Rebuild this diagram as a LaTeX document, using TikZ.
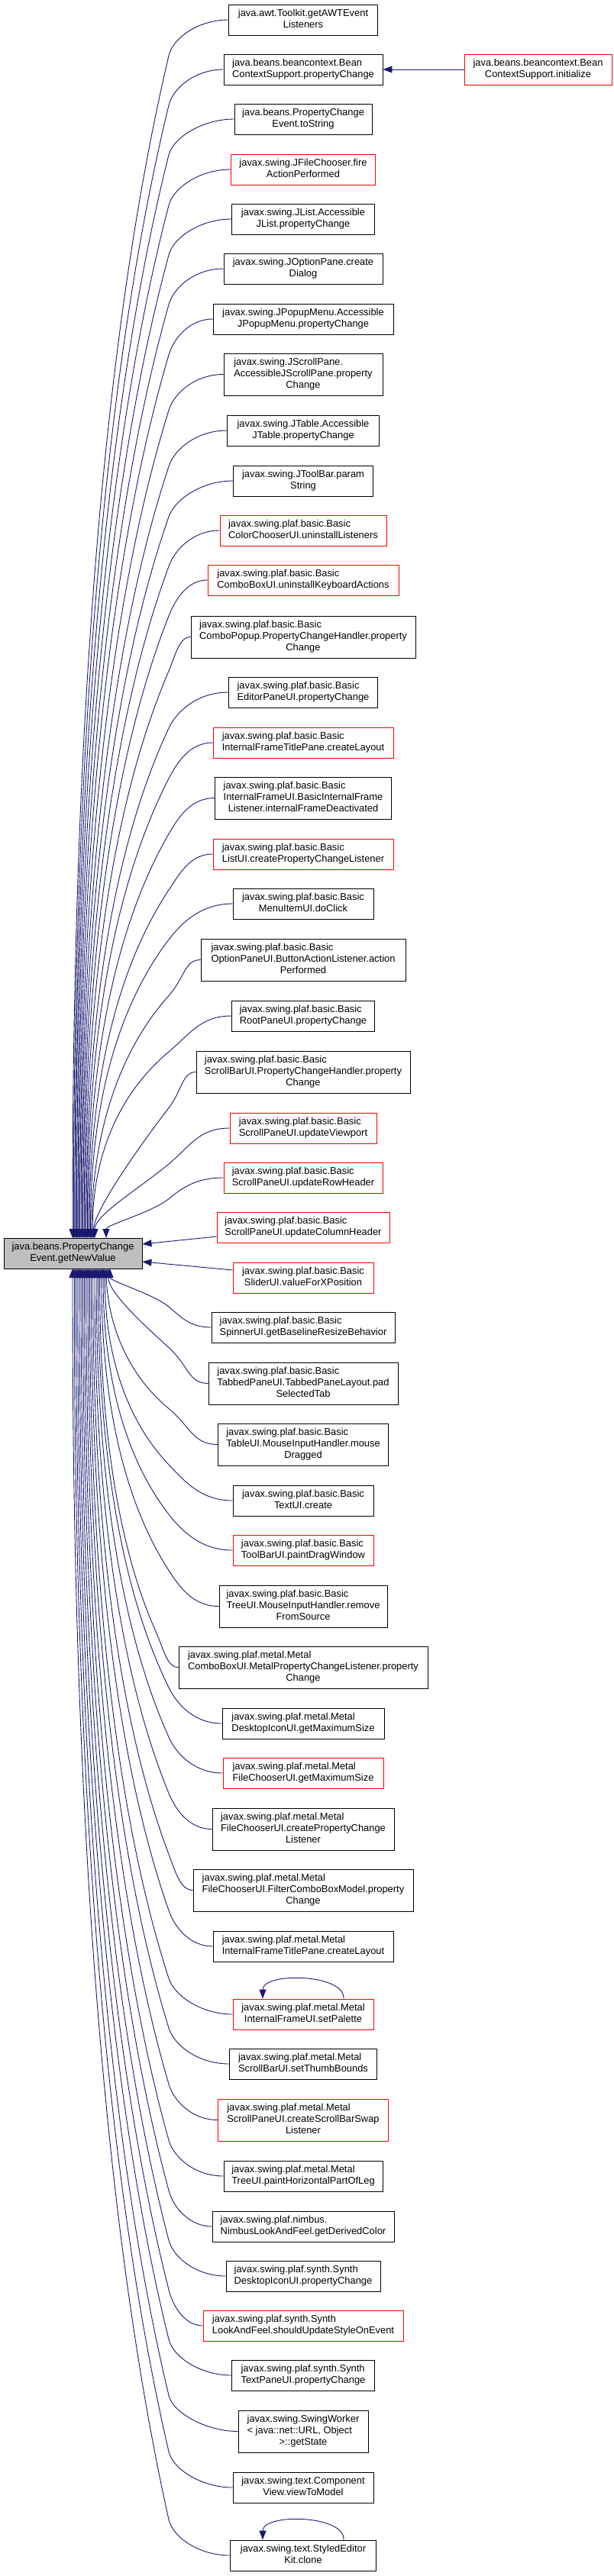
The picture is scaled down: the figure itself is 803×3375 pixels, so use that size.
\documentclass[tikz,border=0pt]{standalone}
\usepackage{fontspec}
\setmainfont{Liberation Sans}
\usetikzlibrary{arrows.meta,calc}
\definecolor{edgeblue}{HTML}{191970}
\definecolor{maingray}{HTML}{BFBFBF}
\newcommand{\twol}[2]{\begin{tabular}{@{}l@{}}#1\\\multicolumn{1}{@{}c@{}}{#2}\end{tabular}}
\newcommand{\threel}[3]{\begin{tabular}{@{}l@{}}#1\\#2\\\multicolumn{1}{@{}c@{}}{#3}\end{tabular}}
% #1 name, #2 centre y (down), #3 end x, #4 node width, #5 direction (1 above main, -1 below)
\newcommand{\calledge}[5]{%
  \pgfmathsetmacro{\eXo}{397-#4/2}%
  \pgfmathsetmacro{\eBx}{min(221,\eXo-30)}%
  \pgfmathsetmacro{\eTy}{#5>0 ? 1622 : 1662}%
  \pgfmathsetmacro{\eDtot}{#5*(\eTy-#2)}%
  \pgfmathsetmacro{\eOff}{min(47,0.35*\eDtot)}%
  \pgfmathsetmacro{\eBy}{#2+#5*\eOff}%
  \pgfmathsetmacro{\eD}{#5*(\eTy-\eBy)}%
  \pgfmathsetmacro{\eC}{min(25,0.5*\eOff)}%
  \pgfmathsetmacro{\eS}{min(1.2,2.9*(\eBx-#3)/\eD,0.5*(\eXo-\eBx)/\eC)}%
  \pgfmathsetmacro{\eA}{min(40,0.5*(\eXo-\eBx))}%
  \pgfmathsetmacro{\eL}{\eD/3}%
  \pgfmathsetmacro{\eCx}{\eS*\eC}%
  \pgfmathsetmacro{\eCy}{#5*\eC}%
  \pgfmathsetmacro{\eLx}{-\eS*\eL}%
  \pgfmathsetmacro{\eLy}{-#5*\eL}%
  \pgfmathsetmacro{\eEy}{#5*max(0.2*\eD,min(\eL,30))}%
  \pgfmathsetmacro{\eEx}{#3-95.5}%
  \pgfmathsetmacro{\eEyy}{#5*20}%
  \draw[edge] (#1.west) .. controls +(-\eA,0) and +(\eCx,\eCy) .. (\eBx,-\eBy)
    .. controls +(\eLx,\eLy) and +(0,\eEy) .. ($(main.center)+(\eEx,\eEyy)$);}
\begin{document}
\begin{tikzpicture}[x=1pt,y=1pt,
  box/.style={draw=black,line width=0.9pt,fill=white,inner sep=2pt,minimum height=40pt,
     font=\fontsize{12.9}{14.7}\selectfont,text=black},
  cn/.style={box},
  rn/.style={box,draw=red},
  tall/.style={minimum height=55pt},
  edge/.style={draw=edgeblue,line width=0.9pt,-{Triangle[length=12pt,width=9pt]}}]
\fill[white] (0,0) rectangle (803,-3375);
\useasboundingbox (0,0) rectangle (803,-3375);

\node[box,fill=maingray,minimum width=181pt] (main) at (95.5,-1642) {\twol{java.beans.PropertyChange}{Event.getNewValue}};

\node[cn,minimum width=195pt] (n1) at (397,-26) {\twol{java.awt.Toolkit.getAWTEvent}{Listeners}};
\node[cn,minimum width=208pt] (n2) at (397,-91) {\twol{java.beans.beancontext.Bean}{ContextSupport.propertyChange}};
\node[rn,minimum width=193pt] (r1) at (704.5,-91) {\twol{java.beans.beancontext.Bean}{ContextSupport.initialize}};
\node[cn,minimum width=180pt] (n3) at (397,-156) {\twol{java.beans.PropertyChange}{Event.toString}};
\node[rn,minimum width=189pt] (n4) at (397,-222) {\twol{javax.swing.JFileChooser.fire}{ActionPerformed}};
\node[cn,minimum width=187pt] (n5) at (397,-287) {\twol{javax.swing.JList.Accessible}{JList.propertyChange}};
\node[cn,minimum width=208pt] (n6) at (397,-352) {\twol{javax.swing.JOptionPane.create}{Dialog}};
\node[cn,minimum width=236pt] (n7) at (397,-418) {\twol{javax.swing.JPopupMenu.Accessible}{JPopupMenu.propertyChange}};
\node[cn,tall,minimum width=208pt] (n8) at (397,-490.5) {\threel{javax.swing.JScrollPane.}{AccessibleJScrollPane.property}{Change}};
\node[cn,minimum width=199pt] (n9) at (397,-564) {\twol{javax.swing.JTable.Accessible}{JTable.propertyChange}};
\node[cn,minimum width=183pt] (n10) at (397,-630) {\twol{javax.swing.JToolBar.param}{String}};
\node[rn,minimum width=218pt] (n11) at (397,-695) {\twol{javax.swing.plaf.basic.Basic}{ColorChooserUI.uninstallListeners}};
\node[rn,minimum width=250pt] (n12) at (397,-760) {\twol{javax.swing.plaf.basic.Basic}{ComboBoxUI.uninstallKeyboardActions}};
\node[cn,tall,minimum width=294pt] (n13) at (397,-834.5) {\threel{javax.swing.plaf.basic.Basic}{ComboPopup.PropertyChangeHandler.property}{Change}};
\node[cn,minimum width=195pt] (n14) at (397,-907) {\twol{javax.swing.plaf.basic.Basic}{EditorPaneUI.propertyChange}};
\node[rn,minimum width=236pt] (n15) at (397,-973) {\twol{javax.swing.plaf.basic.Basic}{InternalFrameTitlePane.createLayout}};
\node[cn,tall,minimum width=231pt] (n16) at (397,-1045.5) {\threel{javax.swing.plaf.basic.Basic}{InternalFrameUI.BasicInternalFrame}{Listener.internalFrameDeactivated}};
\node[rn,minimum width=236pt] (n17) at (397,-1119) {\twol{javax.swing.plaf.basic.Basic}{ListUI.createPropertyChangeListener}};
\node[cn,minimum width=184pt] (n18) at (397,-1184) {\twol{javax.swing.plaf.basic.Basic}{MenuItemUI.doClick}};
\node[cn,tall,minimum width=268pt] (n19) at (397,-1257.5) {\threel{javax.swing.plaf.basic.Basic}{OptionPaneUI.ButtonActionListener.action}{Performed}};
\node[cn,minimum width=187pt] (n20) at (397,-1331) {\twol{javax.swing.plaf.basic.Basic}{RootPaneUI.propertyChange}};
\node[cn,tall,minimum width=280pt] (n21) at (397,-1404.5) {\threel{javax.swing.plaf.basic.Basic}{ScrollBarUI.PropertyChangeHandler.property}{Change}};
\node[rn,minimum width=192pt] (n22) at (397,-1478) {\twol{javax.swing.plaf.basic.Basic}{ScrollPaneUI.updateViewport}};
\node[rn,minimum width=208pt] (n23) at (397,-1543) {\twol{javax.swing.plaf.basic.Basic}{ScrollPaneUI.updateRowHeader}};
\node[rn,minimum width=226pt] (n24) at (397,-1608) {\twol{javax.swing.plaf.basic.Basic}{ScrollPaneUI.updateColumnHeader}};
\node[rn,minimum width=184pt] (n25) at (397,-1674) {\twol{javax.swing.plaf.basic.Basic}{SliderUI.valueForXPosition}};
\node[cn,minimum width=240pt] (n26) at (397,-1739) {\twol{javax.swing.plaf.basic.Basic}{SpinnerUI.getBaselineResizeBehavior}};
\node[cn,tall,minimum width=248pt] (n27) at (397,-1812.5) {\threel{javax.swing.plaf.basic.Basic}{TabbedPaneUI.TabbedPaneLayout.pad}{SelectedTab}};
\node[cn,tall,minimum width=223pt] (n28) at (397,-1892.5) {\threel{javax.swing.plaf.basic.Basic}{TableUI.MouseInputHandler.mouse}{Dragged}};
\node[cn,minimum width=184pt] (n29) at (397,-1966) {\twol{javax.swing.plaf.basic.Basic}{TextUI.create}};
\node[rn,minimum width=184pt] (n30) at (397,-2031) {\twol{javax.swing.plaf.basic.Basic}{ToolBarUI.paintDragWindow}};
\node[cn,tall,minimum width=220pt] (n31) at (397,-2104.5) {\threel{javax.swing.plaf.basic.Basic}{TreeUI.MouseInputHandler.remove}{FromSource}};
\node[cn,tall,minimum width=326pt] (n32) at (397,-2184.5) {\threel{javax.swing.plaf.metal.Metal}{ComboBoxUI.MetalPropertyChangeListener.property}{Change}};
\node[cn,minimum width=212pt] (n33) at (397,-2258) {\twol{javax.swing.plaf.metal.Metal}{DesktopIconUI.getMaximumSize}};
\node[rn,minimum width=210pt] (n34) at (397,-2323) {\twol{javax.swing.plaf.metal.Metal}{FileChooserUI.getMaximumSize}};
\node[cn,tall,minimum width=238pt] (n35) at (397,-2396.5) {\threel{javax.swing.plaf.metal.Metal}{FileChooserUI.createPropertyChange}{Listener}};
\node[cn,tall,minimum width=288pt] (n36) at (397,-2476.5) {\threel{javax.swing.plaf.metal.Metal}{FileChooserUI.FilterComboBoxModel.property}{Change}};
\node[cn,minimum width=236pt] (n37) at (397,-2550) {\twol{javax.swing.plaf.metal.Metal}{InternalFrameTitlePane.createLayout}};
\node[rn,minimum width=184pt] (n38) at (397,-2639) {\twol{javax.swing.plaf.metal.Metal}{InternalFrameUI.setPalette}};
\node[cn,minimum width=193pt] (n39) at (397,-2704) {\twol{javax.swing.plaf.metal.Metal}{ScrollBarUI.setThumbBounds}};
\node[rn,tall,minimum width=223pt] (n40) at (397,-2777.5) {\threel{javax.swing.plaf.metal.Metal}{ScrollPaneUI.createScrollBarSwap}{Listener}};
\node[cn,minimum width=208pt] (n41) at (397,-2851) {\twol{javax.swing.plaf.metal.Metal}{TreeUI.paintHorizontalPartOfLeg}};
\node[cn,minimum width=238pt] (n42) at (397,-2917) {\twol{javax.swing.plaf.nimbus.}{NimbusLookAndFeel.getDerivedColor}};
\node[cn,minimum width=202pt] (n43) at (397,-2982) {\twol{javax.swing.plaf.synth.Synth}{DesktopIconUI.propertyChange}};
\node[rn,minimum width=262pt] (n44) at (397,-3047) {\twol{javax.swing.plaf.synth.Synth}{LookAndFeel.shouldUpdateStyleOnEvent}};
\node[cn,minimum width=187pt] (n45) at (397,-3112) {\twol{javax.swing.plaf.synth.Synth}{TextPaneUI.propertyChange}};
\node[cn,tall,minimum width=170pt] (n46) at (397,-3185.5) {\threel{javax.swing.SwingWorker}{< java::net::URL, Object}{>::getState}};
\node[cn,minimum width=184pt] (n47) at (397,-3259) {\twol{javax.swing.text.Component}{View.viewToModel}};
\node[cn,minimum width=191pt] (n48) at (397,-3348) {\twol{javax.swing.text.StyledEditor}{Kit.clone}};

% edges from nodes above the main node
\calledge{n1}{26}{95}{195}{1}
\calledge{n2}{91}{96.4}{208}{1}
\calledge{n3}{156}{97.8}{180}{1}
\calledge{n4}{222}{99.1}{189}{1}
\calledge{n5}{287}{100.5}{187}{1}
\calledge{n6}{352}{101.9}{208}{1}
\calledge{n7}{418}{103.3}{236}{1}
\calledge{n8}{490.5}{104.7}{208}{1}
\calledge{n9}{564}{106}{199}{1}
\calledge{n10}{630}{107.4}{183}{1}
\calledge{n11}{695}{108.8}{218}{1}
\calledge{n12}{760}{110.2}{250}{1}
\calledge{n13}{834.5}{111.6}{294}{1}
\calledge{n14}{907}{113}{195}{1}
\calledge{n15}{973}{114.3}{236}{1}
\calledge{n16}{1045.5}{115.7}{231}{1}
\calledge{n17}{1119}{117.1}{236}{1}
\calledge{n18}{1184}{118.5}{184}{1}
\calledge{n19}{1257.5}{119.9}{268}{1}
\calledge{n20}{1331}{121.2}{187}{1}
\calledge{n21}{1404.5}{122.6}{280}{1}
\calledge{n22}{1478}{124}{192}{1}
\calledge{n23}{1543}{139}{208}{1}
% edges arriving at the right side
\draw[edge] ($(n24.west)+(0,-12)$) -- ($(main.east)+(0,12)$);
\draw[edge] ($(n25.west)+(0,10)$) -- ($(main.east)+(0,-11)$);
% edges from nodes below the main node
\calledge{n26}{1739}{144}{240}{-1}
\calledge{n27}{1812.5}{141.8}{248}{-1}
\calledge{n28}{1892.5}{139.5}{223}{-1}
\calledge{n29}{1966}{137.3}{184}{-1}
\calledge{n30}{2031}{135.1}{184}{-1}
\calledge{n31}{2104.5}{132.9}{220}{-1}
\calledge{n32}{2184.5}{130.6}{326}{-1}
\calledge{n33}{2258}{128.4}{212}{-1}
\calledge{n34}{2323}{126.2}{210}{-1}
\calledge{n35}{2396.5}{124}{238}{-1}
\calledge{n36}{2476.5}{121.7}{288}{-1}
\calledge{n37}{2550}{119.5}{236}{-1}
\calledge{n38}{2639}{117.3}{184}{-1}
\calledge{n39}{2704}{115.1}{193}{-1}
\calledge{n40}{2777.5}{112.8}{223}{-1}
\calledge{n41}{2851}{110.6}{208}{-1}
\calledge{n42}{2917}{108.4}{238}{-1}
\calledge{n43}{2982}{106.1}{202}{-1}
\calledge{n44}{3047}{103.9}{262}{-1}
\calledge{n45}{3112}{101.7}{187}{-1}
\calledge{n46}{3185.5}{99.5}{170}{-1}
\calledge{n47}{3259}{97.3}{184}{-1}
\calledge{n48}{3348}{95}{191}{-1}

% other edges
\draw[edge] (r1.west) -- (n2.east);
\draw[edge] ($(n38.north)+(53,0)$) .. controls +(2,33) and +(0,35) .. ($(n38.north)+(-53,0)$);
\draw[edge] ($(n48.north)+(53,0)$) .. controls +(2,33) and +(0,35) .. ($(n48.north)+(-53,0)$);
\end{tikzpicture}
\end{document}
